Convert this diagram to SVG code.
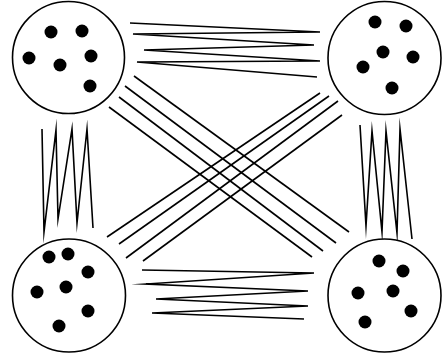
<svg xmlns="http://www.w3.org/2000/svg" width="446" height="359" viewBox="0 0 446 359">
<style>
.ring{fill:#fff;stroke:#000;stroke-width:1.6}
.dot{fill:#000}
.link{fill:none;stroke:#000;stroke-width:1.6;stroke-linejoin:miter;stroke-miterlimit:20}
</style>
<rect width="446" height="359" fill="#fff"/>
<g id="connectors">
<polyline class="link" points="130,23 320,32 133,34 314,45 144,50 320,61 137,62 317,77"/>
<polyline class="link" points="42,129 44,232 56,130 58,219 72,129 77,223 87,129 93,228"/>
<polyline class="link" points="360,125 366,226 372,131 382,232 386,131 397,233 400,129 412,239"/>
<polyline class="link" points="142,270 314,273 146,284 308,291 156,299 308,306 152,313 304,319"/>
<line class="link" x1="134" y1="76" x2="349" y2="232"/>
<line class="link" x1="125" y1="86" x2="336" y2="243"/>
<line class="link" x1="119" y1="97" x2="323" y2="251"/>
<line class="link" x1="109" y1="107" x2="312" y2="257"/>
<line class="link" x1="320" y1="93" x2="107" y2="237"/>
<line class="link" x1="329" y1="96" x2="119" y2="244"/>
<line class="link" x1="338" y1="101" x2="126" y2="258"/>
<line class="link" x1="342" y1="115" x2="143" y2="261"/>
</g>
<g id="node-tl">
<circle class="ring" cx="68.5" cy="57.5" r="56"/>
<circle class="dot" cx="51" cy="32" r="6.5"/>
<circle class="dot" cx="82" cy="31" r="6.5"/>
<circle class="dot" cx="29" cy="58" r="6.5"/>
<circle class="dot" cx="60" cy="65" r="6.5"/>
<circle class="dot" cx="91" cy="56" r="6.5"/>
<circle class="dot" cx="90" cy="86" r="6.5"/>
</g>
<g id="node-tr">
<circle class="ring" cx="384.5" cy="58" r="56.5"/>
<circle class="dot" cx="375" cy="22" r="6.5"/>
<circle class="dot" cx="406" cy="26" r="6.5"/>
<circle class="dot" cx="383" cy="52" r="6.5"/>
<circle class="dot" cx="413" cy="57" r="6.5"/>
<circle class="dot" cx="363" cy="67" r="6.5"/>
<circle class="dot" cx="392" cy="88" r="6.5"/>
</g>
<g id="node-bl">
<circle class="ring" cx="69" cy="295.5" r="56.5"/>
<circle class="dot" cx="49" cy="257" r="6.5"/>
<circle class="dot" cx="68" cy="254" r="6.5"/>
<circle class="dot" cx="88" cy="272" r="6.5"/>
<circle class="dot" cx="66" cy="287" r="6.5"/>
<circle class="dot" cx="37" cy="292" r="6.5"/>
<circle class="dot" cx="88" cy="311" r="6.5"/>
<circle class="dot" cx="59" cy="326" r="6.5"/>
</g>
<g id="node-br">
<circle class="ring" cx="384.5" cy="295.5" r="56.5"/>
<circle class="dot" cx="379" cy="261" r="6.5"/>
<circle class="dot" cx="403" cy="271" r="6.5"/>
<circle class="dot" cx="393" cy="291" r="6.5"/>
<circle class="dot" cx="358" cy="293" r="6.5"/>
<circle class="dot" cx="411" cy="311" r="6.5"/>
<circle class="dot" cx="365" cy="322" r="6.5"/>
</g>
</svg>
